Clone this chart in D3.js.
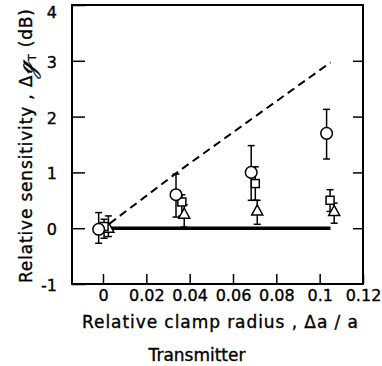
<!DOCTYPE html>
<html>
<head>
<meta charset="utf-8">
<script src="https://cdn.jsdelivr.net/npm/d3@7"></script>
<style>
    body { margin: 0; background: white; }
    text { font-family: "DejaVu Sans", sans-serif; fill: black; stroke: black; stroke-width: 0.35px; }
</style>
</head>
<body>
<svg width="382" height="366"></svg>
<script>
const xTicks = [0, 0.02, 0.04, 0.06, 0.08, 0.1, 0.12]
const xTickLabels = ["0", "0.02", "0.04", "0.06", "0.08", "0.1", "0.12"]
const yTicks = [-1, 0, 1, 2, 3, 4]

// circles
const circleX = [-0.002, 0.0337, 0.0684, 0.1032]
const circleY = [-0.02, 0.6, 1.0, 1.7]
const circleLo = [-0.27, 0.2, 0.5, 1.24]
const circleHi = [0.28, 0.97, 1.48, 2.13]

// squares
const squareX = [0.0005, 0.0364, 0.0703, 0.1048]
const squareY = [0.03, 0.47, 0.8, 0.5]
const squareLo = [-0.18, 0.22, 0.5, 0.3]
const squareHi = [0.16, 0.6, 1.1, 0.69]

// triangles
const triX = [0.0025, 0.0375, 0.0712, 0.1067]
const triY = [0, 0.25, 0.31, 0.3]
const triLo = [-0.15, 0.02, 0.07, 0.09]
const triHi = [0.22, 0.42, 0.5, 0.45]

// dashed theory line and zero line
const dashX = [0.003, 0.036, 0.105]
const dashY = [0.08, 1.05, 2.97]
const zeroX = [0.002, 0.105]
const zeroY = [0, 0]

const svg = d3.select("svg")

const xScale = d3.scaleLinear().domain([-0.0143, 0.12]).range([72, 363])
const yScale = d3.scaleLinear().domain([-1, 4]).range([284, 5])

// frame
svg.append("rect")
    .attr("x", 72).attr("y", 5)
    .attr("width", 291).attr("height", 279)
    .style("fill", "none")
    .style("stroke", "black")
    .style("stroke-width", "2px")

const xAxis = d3.axisBottom(xScale)
    .tickValues(xTicks)
    .tickFormat((d, i) => xTickLabels[i])
    .tickSize(-10)
    .tickPadding(6)

svg.append("g")
    .attr("transform", "translate(0,284)")
    .call(xAxis)
    .call(g => g.select(".domain").remove())
    .call(g => g.selectAll("line").style("stroke-width", "1.5px"))
    .call(g => g.selectAll("text").style("font-size", "16px").style("font-family", "DejaVu Sans"))

const yAxis = d3.axisLeft(yScale)
    .tickValues(yTicks)
    .tickFormat(d => d)
    .tickSize(-13)
    .tickPadding(15)

svg.append("g")
    .attr("transform", "translate(72,0)")
    .call(yAxis)
    .call(g => g.select(".domain").remove())
    .call(g => g.selectAll("line").style("stroke-width", "1.5px"))
    .call(g => g.selectAll("text")
        .style("font-size", "16px")
        .style("font-family", "DejaVu Sans")
        .attr("dy", d => d === 4 ? "0.75em" : "0.4em"))

const yAxisR = d3.axisRight(yScale)
    .tickValues(yTicks.filter(d => d > -1 && d < 4))
    .tickFormat("")
    .tickSize(-10)

svg.append("g")
    .attr("transform", "translate(363,0)")
    .call(yAxisR)
    .call(g => g.select(".domain").remove())
    .call(g => g.selectAll("line").style("stroke-width", "1.5px"))

// lines
const line = d3.line().x(d => xScale(d[0])).y(d => yScale(d[1]))

svg.append("path")
    .attr("d", line(dashX.map((x, i) => [x, dashY[i]])))
    .style("fill", "none")
    .style("stroke", "black")
    .style("stroke-width", "2px")
    .style("stroke-dasharray", "8,5")

svg.append("path")
    .attr("d", line(zeroX.map((x, i) => [x, zeroY[i]])))
    .style("fill", "none")
    .style("stroke", "black")
    .style("stroke-width", "3.5px")

function errorBars(xs, lo, hi) {
    const g = svg.append("g")
    xs.forEach((x, i) => {
        const cx = xScale(x)
        g.append("line")
            .attr("x1", cx).attr("x2", cx)
            .attr("y1", yScale(lo[i])).attr("y2", yScale(hi[i]))
            .style("stroke", "black").style("stroke-width", "1.5px")
        ;[lo[i], hi[i]].forEach(v => {
            g.append("line")
                .attr("x1", cx - 3.5).attr("x2", cx + 3.5)
                .attr("y1", yScale(v)).attr("y2", yScale(v))
                .style("stroke", "black").style("stroke-width", "1.5px")
        })
    })
}

errorBars(triX, triLo, triHi)
errorBars(squareX, squareLo, squareHi)
errorBars(circleX, circleLo, circleHi)

// triangles
svg.append("g").selectAll("path")
    .data(triX)
    .enter()
    .append("path")
    .attr("d", (d, i) => {
        const cx = xScale(d), cy = yScale(triY[i])
        return `M${cx},${cy - 6}L${cx + 5.5},${cy + 4}L${cx - 5.5},${cy + 4}Z`
    })
    .style("fill", "white")
    .style("stroke", "black")
    .style("stroke-width", "1.5px")

// squares
svg.append("g").selectAll("rect")
    .data(squareX)
    .enter()
    .append("rect")
    .attr("x", d => xScale(d) - 4)
    .attr("y", (d, i) => yScale(squareY[i]) - 4)
    .attr("width", 8)
    .attr("height", 8)
    .style("fill", "white")
    .style("stroke", "black")
    .style("stroke-width", "1.5px")

// circles
svg.append("g").selectAll("circle")
    .data(circleX)
    .enter()
    .append("circle")
    .attr("cx", d => xScale(d))
    .attr("cy", (d, i) => yScale(circleY[i]))
    .attr("r", 5.8)
    .style("fill", "white")
    .style("stroke", "black")
    .style("stroke-width", "1.5px")

// axis titles
svg.append("text")
    .attr("x", 82)
    .attr("y", 328)
    .attr("textLength", 276)
    .attr("lengthAdjust", "spacing")
    .style("font-size", "17px")
    .text("Relative clamp radius , \u0394a / a")

svg.append("text")
    .attr("x", 197)
    .attr("y", 361)
    .style("text-anchor", "middle")
    .style("font-size", "17px")
    .text("Transmitter")

const yLabel = svg.append("text")
    .attr("transform", "translate(32,283) rotate(-90)")
    .attr("textLength", 274)
    .attr("lengthAdjust", "spacing")
    .style("font-size", "17px")
yLabel.append("tspan").text("Relative sensitivity ,  \u0394")
yLabel.append("tspan").style("font-size", "22px").style("font-style", "italic").text("\u210A")
yLabel.append("tspan").style("font-size", "11px").attr("dy", 4).text("T")
yLabel.append("tspan").attr("dy", -4).text(" (dB)")
</script>
</body>
</html>
